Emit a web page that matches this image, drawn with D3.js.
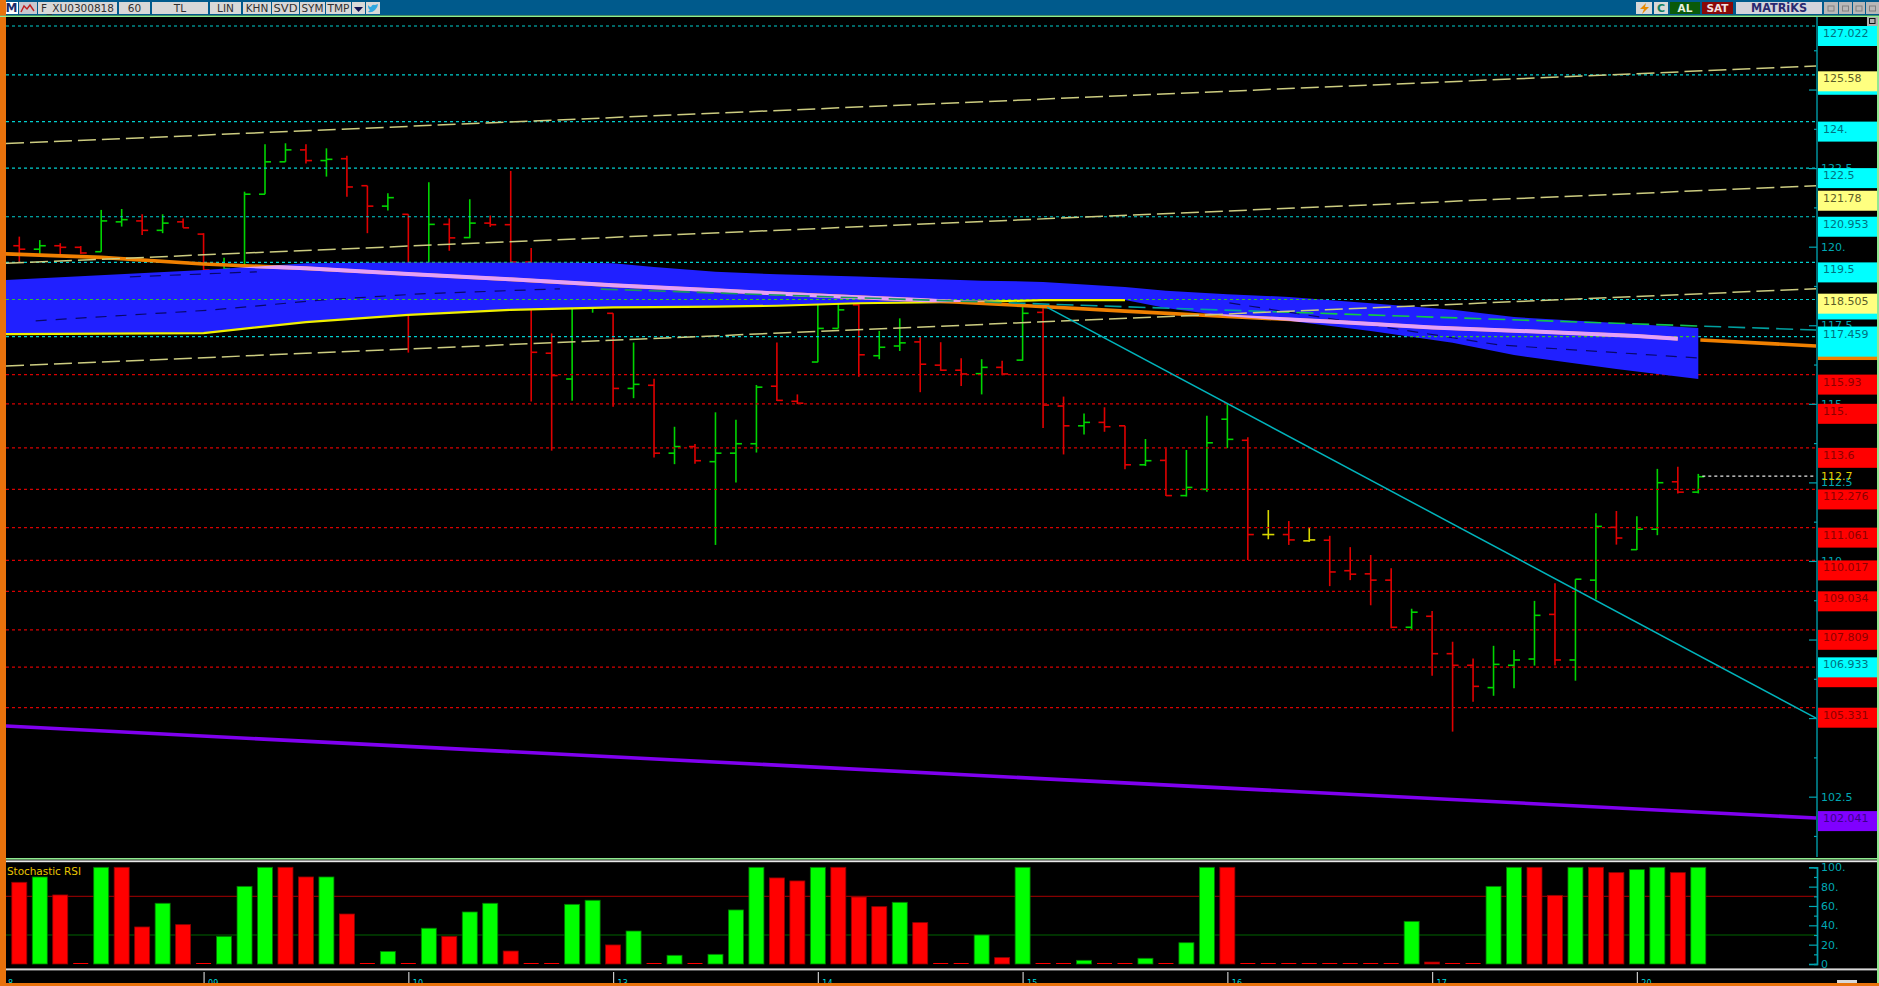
<!DOCTYPE html>
<html><head><meta charset="utf-8">
<style>html,body{margin:0;padding:0;background:#000;overflow:hidden}svg{display:block}</style>
<script src="https://cdn.jsdelivr.net/npm/d3@7/dist/d3.min.js"></script>
</head><body><svg id="c" width="1879" height="986"></svg>
<script>
// ---------- DATA ----------
const barOpen=[120.03,119.92,120.03,119.98,119.84,120.79,120.82,120.52,120.79,120.40,119.10,119.42,121.67,122.70,123.08,122.74,122.80,121.94,121.29,121.03,119.26,120.71,120.29,120.75,120.70,119.51,116.61,115.79,118.30,117.88,115.49,115.59,113.43,113.64,113.16,113.43,113.73,115.56,115.08,116.33,117.40,118.15,116.53,116.84,116.97,116.23,116.07,115.96,116.16,116.39,117.91,114.93,114.30,114.41,114.30,113.06,113.20,112.08,112.28,114.51,113.84,110.84,110.84,110.64,110.66,109.69,109.59,109.39,107.89,108.24,107.05,106.68,105.97,106.68,106.88,108.30,106.85,109.39,111.07,110.36,111.01,112.52,112.19];
const barHigh=[120.32,120.21,120.11,120.02,121.17,121.20,121.03,121.03,120.90,120.43,119.65,121.75,123.26,123.29,123.26,123.13,122.89,121.94,121.70,121.03,122.05,120.90,121.51,120.99,122.41,119.96,117.24,118.30,118.62,117.88,116.95,115.80,114.27,113.72,114.73,114.49,115.60,116.95,115.30,118.15,118.21,118.21,117.32,117.72,117.12,116.96,116.45,116.42,116.37,118.09,118.04,115.23,114.69,114.89,114.30,113.88,113.59,113.53,114.62,114.99,113.94,111.62,111.27,111.07,110.80,110.44,110.19,109.77,108.48,108.41,107.43,106.90,107.30,107.17,108.73,109.29,109.42,111.52,111.59,111.42,112.93,113.00,112.77];
const barLow=[119.48,119.74,119.70,119.77,119.84,120.64,120.37,120.43,120.60,119.05,119.08,119.42,121.67,122.70,122.65,122.23,121.59,120.43,121.15,116.63,119.50,119.87,120.27,120.63,119.42,115.07,113.51,115.10,117.90,114.91,115.18,113.29,113.08,113.09,110.51,112.50,113.45,115.09,114.99,116.32,117.40,115.86,116.42,116.68,115.37,116.05,115.57,115.30,115.91,116.37,114.23,113.39,114.02,114.11,112.92,113.02,112.07,112.05,112.20,113.59,110.03,110.69,110.51,110.61,109.20,109.39,108.59,107.86,107.83,106.35,104.57,105.52,105.71,105.95,106.67,106.67,106.19,108.77,110.52,110.35,110.82,112.15,112.15];
const barClose=[119.92,120.03,119.98,119.80,120.82,120.86,120.52,120.75,120.60,119.26,119.30,121.67,122.70,123.08,122.74,122.78,121.90,121.29,121.56,118.62,120.71,120.28,120.75,120.70,119.51,116.64,115.90,118.30,118.46,115.49,115.62,113.43,113.64,113.19,113.43,113.73,115.53,115.11,115.02,117.40,117.99,116.56,116.80,116.94,116.26,116.07,115.95,116.16,115.95,117.88,114.96,114.30,114.41,114.27,113.06,113.19,112.08,112.34,113.76,113.87,110.84,110.84,110.67,110.67,109.65,109.58,109.39,107.89,108.37,107.05,106.68,106.01,106.71,106.85,108.27,106.85,109.42,111.10,110.73,111.01,112.49,112.19,112.68];
const barColour="RGRRGGRGRRGGGGRGRRGRGRGRRRRGGRGRGRGGGRRGGRGGRRRGRGRRGRRGRGGGRYRYRRRRGRRRGGGRGGRGGRG".split("");
const stochValues=[84.5,90,71.4,0,100,100,38.3,62.8,40.7,0,28.6,80.3,100,100,90,90,51.7,0,13,0,37,28.6,53.8,62.8,13.4,0,0,61.7,65.9,19.7,34.1,0,9,0,10,55.9,100,89,85.9,100,100,69.3,59.3,63.8,42.8,0,0,30,6.6,100,0,0,3.8,0,0,5.9,0,22,100,100,0,0,0,0,0,0,0,0,44.1,2,0,0,80.3,100,100,71,100,100,94.5,97.6,100,94.5,100];
const stochColour="RGRRGRRGRRGGGRRGRRGRGRGGRRRGGRGRGRGGGRRGRRRGRRRGRGRRGRRGRGGRRRRRRRRRGRRRGGRRGRRGGRG".split("");
const stochLevels=[70,30];
const stochTicks=[100,80,60,40,20,0];
const stochMinor=[90,70,50,30,10];

const priceMajor=[125,122.5,120,117.5,115,112.5,110,107.5,105,102.5];
const priceMinor=[126.25,123.75,121.25,118.75,116.25,113.75,111.25,108.75,106.25,103.75,101.25];
const priceMajorLabels={122.5:"122.5",120:"120.",117.5:"117.5",115:"115.",112.5:"112.5",110:"110.",102.5:"102.5"};

const cyanLevels=[127.022,125.47,123.98,122.5,120.953,119.5,118.32,117.137];
const redLevels=[115.93,115,113.6,112.276,111.061,110.017,109.034,107.809,106.62,105.331];
const boxValues=[127.022,125.47,123.98,122.5,120.953,119.5,118.32,115.93,115,113.6,112.276,111.061,110.017,109.034,107.809,106.62,105.331,125.58,121.78,118.505,117.03,117.137,117.459,106.933,102.041];
const boxLabels=["127.022","","124.","122.5","120.953","119.5","","115.93","115.","113.6","112.276","111.061","110.017","109.034","107.809","","105.331","125.58","121.78","118.505","","","117.459","106.933","102.041"];
const boxKinds="ccccccc" .split("").concat("rrrrrrrrrr".split(""),"yyy".split(""),["o","c","c","c","p"]);

const bandIndex=[-0.65,9,14,19,24,26,29,31,34,37,41,47,50,54,56,59,62,66,70,73,78,82];
const bandUpper=[118.94,119.26,119.47,119.50,119.50,119.50,119.47,119.35,119.20,119.12,119.05,118.92,118.88,118.72,118.60,118.49,118.40,118.20,117.99,117.76,117.57,117.41];
const bandLower=[117.22,117.25,117.60,117.83,117.99,118.02,118.07,118.08,118.09,118.12,118.20,118.25,118.30,118.30,118.05,117.79,117.64,117.32,116.94,116.55,116.11,115.79];
const emaIndex=[-0.65,4,9,14,19,24,29,34,39,44,49,54,59,64,69,74,79,81];
const emaValues=[119.77,119.66,119.45,119.31,119.13,118.96,118.77,118.61,118.45,118.30,118.13,117.95,117.78,117.62,117.43,117.30,117.16,117.07];
const emaTailIndex=[82.1,87.75];
const emaTailValues=[117.03,116.84];
const lineEnds=[-0.65,87.75];
const channelTop=[123.28,125.75];
const channelMid=[119.47,121.94];
const channelBottom=[116.20,118.66];
const purpleLine=[104.75,101.82];
const trendIndex=[50.2,87.75];
const trendValues=[118.07,105.00];
const tealIndex=[28.4,87.75];
const tealValues=[118.65,117.35];
const darkIndexA=[0.8,9.5,14.7,19.6,26.4];
const darkValuesA=[117.64,117.99,118.30,118.50,118.66];
const darkIndexB=[5.4,11.6];
const darkValuesB=[119.04,119.20];
const darkIndexC=[59.1,72.3,82];
const darkValuesC=[118.21,116.87,116.46];
const lastPrice=112.7;
const dateIndex=[9,19,29,39,49,59,69,79];
const dateLabels=["09","10","13","14","15","16","17","20"];
const firstDateLabel="8";
const buttons=["F_XU0300818","60","TL","LIN","KHN","SVD","SYM","TMP"];

// ---------- LAYOUT ----------
const W=1879,H=986,axisX=1817,plotL=6;
const FONT="'DejaVu Sans',sans-serif";
const x=d3.scaleLinear().domain([0,82]).range([19.3,1698.3]);
const y=d3.scaleLinear().domain([127.022,105.331]).range([26,707.7]);
const yS=d3.scaleLinear().domain([0,100]).range([964,867.3]);
const svg=d3.select("#c");
const hLine=(g,yy,col,dash,w)=>g.append("line").attr("x1",plotL).attr("x2",axisX-1).attr("y1",yy).attr("y2",yy).attr("stroke",col).attr("stroke-width",w||1.2).attr("stroke-dasharray",dash||null);
const pathOf=(xs,vs,sc)=>d3.line().x(d=>x(d[0])).y(d=>(sc||y)(d[1]))(xs.map((a,i)=>[a,vs[i]]));

svg.append("rect").attr("width",W).attr("height",H).attr("fill","#000");

// OHLC bars
const cols={G:"#00d400",R:"#e00000",Y:"#d8d800"};
const bars=svg.append("g").attr("stroke-width",1.6).attr("fill","none");
barOpen.forEach((o,i)=>{
  const c=cols[barColour[i]],xx=x(i);
  const g=bars.append("g").attr("stroke",c);
  g.append("line").attr("x1",xx).attr("x2",xx).attr("y1",y(barHigh[i])).attr("y2",y(barLow[i]));
  g.append("line").attr("x1",xx-6).attr("x2",xx).attr("y1",y(o)).attr("y2",y(o));
  g.append("line").attr("x1",xx).attr("x2",xx+6).attr("y1",y(barClose[i])).attr("y2",y(barClose[i]));
});

// level lines
const grid=svg.append("g");
cyanLevels.forEach(v=>hLine(grid,y(v),"#00cfcf","3 3"));
redLevels.forEach(v=>hLine(grid,y(v),"#d80000","3 3"));

// band
const bandPts=bandIndex.map((a,i)=>[a,bandUpper[i],bandLower[i]]);
const area=d3.area().x(d=>x(d[0])).y0(d=>y(d[2])).y1(d=>y(d[1]));
const bandD=area(bandPts);
svg.append("path").attr("d",bandD).attr("fill","#2020ff");
svg.append("clipPath").attr("id","bandClip").append("path").attr("d",bandD);

// dark dashes in band
[[darkIndexA,darkValuesA],[darkIndexB,darkValuesB],[darkIndexC,darkValuesC]].forEach(([a,b])=>{
  svg.append("path").attr("d",pathOf(a,b)).attr("fill","none").attr("stroke","#08086a").attr("stroke-width",1.2).attr("stroke-dasharray","11 9");
});
// green-looking level lines over band
const gridB=svg.append("g").attr("clip-path","url(#bandClip)");
cyanLevels.forEach(v=>hLine(gridB,y(v),"#30c030","3 3"));

// lower band yellow
const yn=14;
svg.append("path").attr("d",pathOf(bandIndex.slice(0,yn),bandLower.slice(0,yn))).attr("fill","none").attr("stroke","#f0f000").attr("stroke-width",2.2);

// ema
svg.append("path").attr("d",pathOf(emaIndex,emaValues)).attr("fill","none").attr("stroke","#f08000").attr("stroke-width",3.6);
svg.append("path").attr("d",pathOf(emaTailIndex,emaTailValues)).attr("fill","none").attr("stroke","#f08000").attr("stroke-width",3.6);
svg.append("g").attr("clip-path","url(#bandClip)").append("path").attr("d",pathOf(emaIndex,emaValues)).attr("fill","none").attr("stroke","#e4a0f8").attr("stroke-width",4);

// teal dashed line with changing colour
const grad=svg.append("linearGradient").attr("id","tealGrad").attr("gradientUnits","userSpaceOnUse").attr("x1",600).attr("x2",1816).attr("y1",0).attr("y2",0);
[[0,"#189860"],[.33,"#189860"],[.34,"#00a0a0"],[.55,"#00a0a0"],[.56,"#10d040"],[.9,"#10c050"],[.91,"#00a0a0"],[1,"#00a0a0"]].forEach(s=>grad.append("stop").attr("offset",s[0]).attr("stop-color",s[1]));
svg.append("path").attr("d",pathOf(tealIndex,tealValues)).attr("fill","none").attr("stroke","url(#tealGrad)").attr("stroke-width",1.6).attr("stroke-dasharray","17 7");

// channel
[channelTop,channelMid,channelBottom].forEach(c=>{
  svg.append("path").attr("d",pathOf(lineEnds,c)).attr("fill","none").attr("stroke","#cccc80").attr("stroke-width",1.5).attr("stroke-dasharray","18 6");
});
// purple + trend
svg.append("path").attr("d",pathOf(lineEnds,purpleLine)).attr("fill","none").attr("stroke","#8000f0").attr("stroke-width",3.6);
svg.append("path").attr("d",pathOf(trendIndex,trendValues)).attr("fill","none").attr("stroke","#00b4bc").attr("stroke-width",1.5);
// last price
svg.append("line").attr("x1",x(82)+4).attr("x2",axisX-1).attr("y1",y(lastPrice)).attr("y2",y(lastPrice)).attr("stroke","#e8e8e8").attr("stroke-width",1.2).attr("stroke-dasharray","3 3");

// price axis
const teal="#00a8b4";
const mn=svg.append("g").attr("transform",`translate(${axisX},0)`).call(d3.axisLeft(y).tickValues(priceMinor).tickSize(3).tickFormat(""));
const mj=svg.append("g").attr("transform",`translate(${axisX},0)`).call(d3.axisLeft(y).tickValues(priceMajor).tickSize(8).tickFormat(d=>priceMajorLabels[d]||""));
[mn,mj].forEach(g=>{g.select(".domain").remove();g.selectAll("line").attr("stroke",teal).attr("stroke-width",1.2);});
mj.selectAll("text").attr("x",4).attr("text-anchor","start").attr("fill",teal).attr("font-family",FONT).attr("font-size",11);
svg.append("line").attr("x1",axisX).attr("x2",axisX).attr("y1",16).attr("y2",857).attr("stroke","#009ca8").attr("stroke-width",1.4);

// value boxes
const fills={c:"#00ffff",r:"#ff0000",y:"#ffff80",o:"#f08000",p:"#8000ff"};
const txts={c:"#00707e",r:"#8c0000",y:"#5c5c28",o:"#000",p:"#3c0088"};
const boxes=svg.append("g");
boxValues.forEach((v,i)=>{
  const k=boxKinds[i],t=y(v);
  boxes.append("rect").attr("x",axisX+1).attr("y",t).attr("width",60).attr("height",20).attr("fill",fills[k]);
  if(boxLabels[i]) boxes.append("text").attr("x",axisX+6).attr("y",t+11).attr("fill",txts[k]).attr("font-family",FONT).attr("font-size",11).text(boxLabels[i]);
});
svg.append("text").attr("x",axisX+4).attr("y",y(lastPrice)+4).attr("fill","#e0d000").attr("font-family",FONT).attr("font-size",11).text(lastPrice);

// ---------- lower panel ----------
svg.append("rect").attr("x",0).attr("y",858).attr("width",W).attr("height",1.6).attr("fill","#90e890");
svg.append("rect").attr("x",0).attr("y",860.4).attr("width",W).attr("height",1.8).attr("fill","#e8e8e8");
svg.append("rect").attr("x",0).attr("y",968.4).attr("width",W).attr("height",2).attr("fill","#d8d8d8");
hLine(svg,yS(stochLevels[0]),"#860000",null,1.2);
hLine(svg,yS(stochLevels[1]),"#006400",null,1.2);
const stoch=svg.append("g");
stoch.selectAll("rect").data(stochValues).join("rect")
  .attr("x",(d,i)=>x(i)-7.5).attr("width",15)
  .attr("y",d=>d>0?yS(d):yS(0)-1).attr("height",d=>d>0?yS(0)-yS(d):1)
  .attr("fill",(d,i)=>stochColour[i]==="G"?"#00ff00":"#ff0000")
  .attr("stroke",(d,i)=>d>0?(stochColour[i]==="G"?"#007a00":"#900000"):"none").attr("stroke-width",.8);
svg.append("text").attr("x",7).attr("y",875).attr("fill","#e8c400").attr("font-family",FONT).attr("font-size",10.5).attr("textLength",74).text("Stochastic RSI");
const sa=svg.append("g").attr("transform",`translate(${axisX},0)`).call(d3.axisLeft(yS).tickValues(stochTicks).tickSize(8).tickFormat(d=>d===0?"0":d+"."));
const sb=svg.append("g").attr("transform",`translate(${axisX},0)`).call(d3.axisLeft(yS).tickValues(stochMinor).tickSize(3).tickFormat(""));
[sa,sb].forEach(g=>{g.selectAll("line").attr("stroke",teal).attr("stroke-width",1.2);g.select(".domain").attr("stroke","#009ca8").attr("stroke-width",1.4);});
sa.selectAll("text").attr("x",4).attr("text-anchor","start").attr("fill",teal).attr("font-family",FONT).attr("font-size",11);

// date axis
const da=svg.append("g").attr("transform","translate(0,972)").call(d3.axisBottom(x).tickValues(dateIndex).tickSize(11).tickFormat((d,i)=>dateLabels[i]));
da.select(".domain").remove();
da.selectAll("line").attr("stroke","#c8c8c8").attr("stroke-width",1.2);
da.selectAll("text").attr("x",4).attr("y",13.8).attr("dy",0).attr("text-anchor","start").attr("fill","#00d8d8").attr("font-family",FONT).attr("font-size",8);
svg.append("text").attr("x",8).attr("y",985.8).attr("fill","#00d8d8").attr("font-family",FONT).attr("font-size",8).text(firstDateLabel);
svg.append("rect").attr("x",1837).attr("y",980).attr("width",20).attr("height",4).attr("fill","#d8d8d8");

// ---------- chrome ----------
svg.append("rect").attr("x",0).attr("y",983).attr("width",W).attr("height",3).attr("fill","#e8720c");
svg.append("rect").attr("x",0).attr("y",0).attr("width",6).attr("height",H).attr("fill","#e8720c");
svg.append("rect").attr("x",1877).attr("y",16).attr("width",2).attr("height",967).attr("fill","#90e890");
svg.append("rect").attr("x",0).attr("y",0).attr("width",W).attr("height",15.5).attr("fill","#005a8c");
svg.append("rect").attr("x",0).attr("y",15.5).attr("width",W).attr("height",1.5).attr("fill","#90f090");
svg.append("rect").attr("x",0).attr("y",0).attr("width",6).attr("height",15.5).attr("fill","#e8720c");

const hdr=svg.append("g").attr("font-family",FONT).attr("font-size",10.5).attr("text-anchor","middle");
const btn=(x0,x1,col)=>hdr.append("rect").attr("x",x0).attr("y",2).attr("width",x1-x0).attr("height",12).attr("fill",col);
const lbl=(cx,t,col,fs,fw)=>hdr.append("text").attr("x",cx).attr("y",12).attr("fill",col).attr("font-size",fs||10.5).attr("font-weight",fw||"normal").text(t);
btn(6,18,"#ffffff"); lbl(11.5,"M","#1a2a6a",12,"bold");
btn(19,37,"#c8c8d0");
hdr.append("path").attr("d","M21 12 L24 6 L27 9 L30 5 L34 11").attr("fill","none").attr("stroke","#c02020").attr("stroke-width",1.4);
const bx=[[38,117],[119,150],[152,208],[210,241],[243,271],[272,299],[300,325],[326,351]];
bx.forEach((b,i)=>{
  btn(b[0],b[1],"#d8d8d8");
  const t=lbl((b[0]+b[1])/2,buttons[i],"#303030",10.5,i>4?"normal":"normal");
  if(b[1]-b[0]<28&&buttons[i].length===3) t.attr("textLength",b[1]-b[0]-3).attr("lengthAdjust","spacingAndGlyphs");
});
btn(352,365,"#d8d8d8");
hdr.append("path").attr("d","M354 7 L363 7 L358.5 12 Z").attr("fill","#101050");
btn(366,380,"#d8d8d8");
hdr.append("path").attr("d","M368 12 Q372 13 375 10 Q378 7 378 4 L375 5 Q372 4 371 7 Q369 7 368 5 Q368 9 370 10 Z").attr("fill","#30a8e0");

btn(1636,1652,"#d8d8d8");
hdr.append("path").attr("d","M1646 3 L1640 9 L1644 9 L1642 14 L1649 7 L1645 7 Z").attr("fill","#e88a00");
btn(1654,1668,"#d8d8d8"); lbl(1661,"C","#108060",11,"bold");
btn(1670,1700,"#0a5a0a"); lbl(1685,"AL","#e8f0e0",10.5,"bold");
btn(1702,1733,"#8a0808"); lbl(1717.5,"SAT","#f0e0e0",10.5,"bold");
btn(1736,1822,"#d4d4dc"); lbl(1779,"MATRiKS","#2a2a70",11.5,"bold").attr("textLength",56).attr("lengthAdjust","spacingAndGlyphs");
[[1824,1838],[1839,1852],[1853,1865],[1866,1879]].forEach(b=>{
  btn(b[0],b[1],"#b8b8b8");
  hdr.append("rect").attr("x",(b[0]+b[1])/2-3).attr("y",6).attr("width",6).attr("height",5).attr("fill","none").attr("stroke","#808080");
});
svg.append("rect").attr("x",1867).attr("y",17).attr("width",11).attr("height",9).attr("fill","#b0b0b0");
svg.append("rect").attr("x",1869.5).attr("y",18.5).attr("width",5.5).attr("height",5).attr("fill","none").attr("stroke","#101010").attr("stroke-width",1);
</script></body></html>
